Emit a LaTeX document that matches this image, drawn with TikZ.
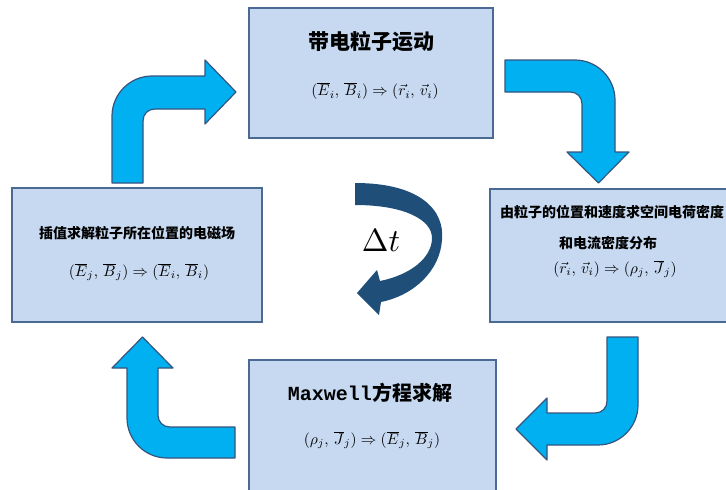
\documentclass[tikz,border=0pt]{standalone}
\usepackage{graphicx}
\usepackage{fontspec}
\newfontfamily\cjk{Noto Sans CJK SC}
\newfontfamily\monob{Liberation Mono}
\definecolor{boxfill}{HTML}{C6D9F1}
\definecolor{boxline}{HTML}{4A6A94}
\definecolor{arrfill}{HTML}{00B0F0}
\definecolor{arrline}{HTML}{35557F}
\definecolor{darkarr}{HTML}{1F4E79}
\newcommand{\frmbox}[1]{\scalebox{1.55}{\fontsize{10}{12}\selectfont$#1$}}
\tikzset{
  stepbox/.style={draw=boxline, fill=boxfill, line width=1.5pt},
  bigarrow/.style={draw=arrline, fill=arrfill, line width=1.2pt, line join=round},
  ttl/.style={inner sep=0pt, font=\cjk\bfseries},
  frm/.style={inner sep=0pt}
}
\begin{document}
\begin{tikzpicture}[x=1pt,y=-1pt]
\useasboundingbox (0,0) rectangle (726,490);
\clip (0,0) rectangle (726,490);
% boxes
\draw[stepbox] (249,8) rectangle (493,138);
\draw[stepbox] (12,188) rectangle (262,322);
\draw[stepbox] (490,189) rectangle (740,322);
\draw[stepbox] (249,360) rectangle (496,500);
% texts
\node[ttl, font=\cjk\bfseries\fontsize{21}{24}\selectfont] (t1) at (371,42) {带电粒子运动};
\node[frm] (f1) at (375,91) {\frmbox{(\overline{E}_i,\,\overline{B}_i)\Rightarrow(\vec{r}_i,\,\vec{v}_i)}};
\node[ttl, font=\cjk\bfseries\fontsize{14}{16}\selectfont] (t2) at (137,233) {插值求解粒子所在位置的电磁场};
\node[frm] (f2) at (139,272) {\frmbox{(\overline{E}_j,\,\overline{B}_j)\Rightarrow(\overline{E}_i,\,\overline{B}_i)}};
\node[ttl, font=\cjk\bfseries\fontsize{14}{16}\selectfont] (t3a) at (612,212) {由粒子的位置和速度求空间电荷密度};
\node[ttl, font=\cjk\bfseries\fontsize{14}{16}\selectfont] (t3b) at (608,243) {和电流密度分布};
\node[frm] (f3) at (615,269) {\frmbox{(\vec{r}_i,\,\vec{v}_i)\Rightarrow(\rho_j,\,\overline{J}_j)}};
\node[ttl, font=\fontsize{20}{24}\selectfont] (t4) at (370,393) {{\monob\bfseries Maxwell}{\cjk\bfseries 方程求解}};
\node[frm] (f4) at (372,440) {\frmbox{(\rho_j,\,\overline{J}_j)\Rightarrow(\overline{E}_j,\,\overline{B}_j)}};
% arrows
% top-left: up then right
\draw[bigarrow] (112,183) -- (112,116) .. controls (112,94) and (130,76) .. (152,76) -- (205,76) -- (205,60) -- (236,92) -- (205,124) -- (205,109) -- (155,109) .. controls (148,109) and (143,114) .. (143,121) -- (143,183) -- cycle;
% top-right: right then down
\draw[bigarrow] (505,60) -- (575,60) .. controls (597,60) and (615,78) .. (615,100) -- (615,152) -- (629,152) -- (598.5,183) -- (567,152) -- (582,152) -- (582,104) .. controls (582,97) and (577,92) .. (570,92) -- (505,92) -- cycle;
% bottom-right: down then left
\draw[bigarrow] (607,337) -- (638,337) -- (638,405) .. controls (638,427) and (620,445) .. (598,445) -- (547,445) -- (547,460) -- (516,429) -- (547,398) -- (547,413) -- (595,413) .. controls (602,413) and (607,408) .. (607,401) -- cycle;
% bottom-left: left then up
\draw[bigarrow] (235,427) -- (235,458) -- (167,458) .. controls (145,458) and (127,440) .. (127,418) -- (127,368) -- (112,368) -- (142.5,337) -- (173,368) -- (158,368) -- (158,415) .. controls (158,422) and (163,427) .. (170,427) -- cycle;
% center dark curved arrow
\fill[darkarr] (355,183) .. controls (420,183) and (445,210) .. (442,240)
  .. controls (440,270) and (415,295) .. (381,302) -- (379,315) -- (357,293) -- (377,270) -- (380,281)
  .. controls (410,275) and (432,258) .. (432,238)
  .. controls (432,220) and (405,205) .. (355,205) -- cycle;
\node[inner sep=0pt] (dt) at (381,241) {\scalebox{3.2}{\fontsize{10}{12}\selectfont$\Delta t$}};
\end{tikzpicture}
\end{document}
